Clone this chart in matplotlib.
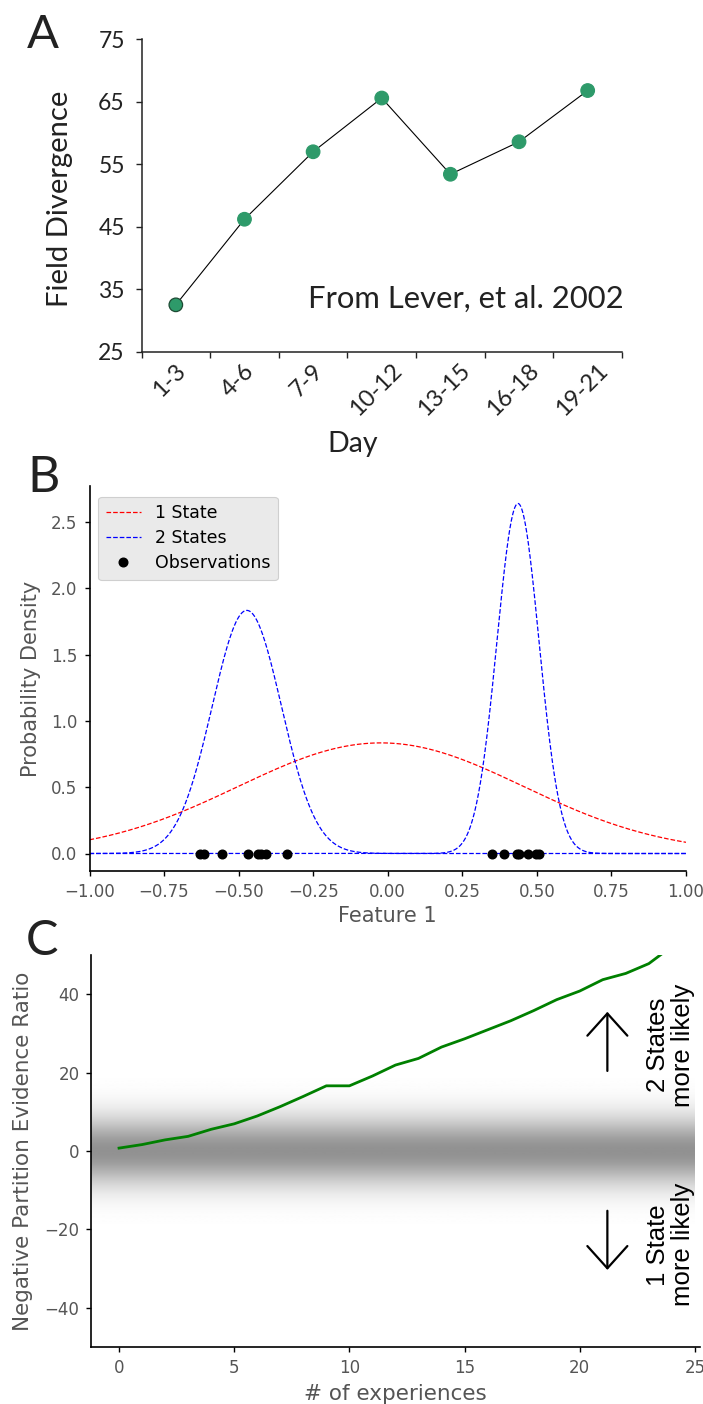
import numpy as np
import matplotlib
matplotlib.use("Agg")
import matplotlib.pyplot as plt
from matplotlib.transforms import ScaledTranslation

# ---------------- data ----------------
# Panel A: place-field divergence over days (Lever et al. 2002)
days = ['1-3', '4-6', '7-9', '10-12', '13-15', '16-18', '19-21']
divergence = [32.5, 46.2, 57.0, 65.6, 53.4, 58.6, 66.8]

# Panel B: one-state vs two-state Gaussian fits to 1-D observations
observations = [-0.629, -0.617, -0.556, -0.468, -0.434, -0.424, -0.408, -0.338,
                0.351, 0.391, 0.435, 0.441, 0.470, 0.497, 0.508]
one_state_mean = -0.023
one_state_sd = 0.478
two_state_means = [-0.4725, 0.4367]
two_state_sds = [0.116, 0.0705]
two_state_weights = [8 / 15, 7 / 15]

# Panel C: evidence ratio as experiences accumulate
experiences = list(range(25))
evidence_ratio = [0.7, 1.6, 2.8, 3.7, 5.5, 6.9, 8.9, 11.3, 13.9, 16.6, 16.6,
                  19.1, 21.9, 23.6, 26.5, 28.6, 30.9, 33.2, 35.8, 38.6, 40.8,
                  43.7, 45.3, 47.8, 52.2]

# ---------------- layout helpers ----------------
W, H = 703, 1404
fig = plt.figure(figsize=(W / 100, H / 100), dpi=100)


def box(left, top, right, bottom):
    return [left / W, 1 - bottom / H, (right - left) / W, (bottom - top) / H]


ink = '#222222'
grey_txt = '#555555'
sans_a = ['Lato', 'DejaVu Sans']

# ---------------- panel A ----------------
axA = fig.add_axes(box(141.5, 39.3, 622, 351.7))
xA = np.arange(len(days)) + 0.5
green_dot = '#2e9a6a'
axA.plot(xA, divergence, color='black', lw=0.8, zorder=2)
edges = ['#1d4a33'] + [green_dot] * (len(days) - 1)
axA.scatter(xA, divergence, s=95, c=green_dot, edgecolors=edges,
            linewidths=0.9, zorder=3)
axA.set_xlim(0, 7)
axA.set_ylim(25, 75)
axA.set_yticks(np.arange(25, 76, 10))
axA.set_xticks(np.arange(0, 8))
axA.set_xticklabels([])
axA.set_xticks(xA, minor=True)
axA.set_xticklabels(days, minor=True, rotation=45, ha='center',
                    fontsize=17, family=sans_a, color=ink)
axA.tick_params(axis='x', which='minor', length=0, pad=6)
axA.tick_params(axis='x', which='major', length=4, width=1, color=ink)
axA.tick_params(axis='y', length=4, width=1, color=ink, pad=8)
for lab in axA.get_yticklabels():
    lab.set_family(sans_a)
    lab.set_fontsize(16.5)
    lab.set_color(ink)
shift = ScaledTranslation(-6 / 100, 0, fig.dpi_scale_trans)
for lab in axA.get_xticklabels(minor=True):
    lab.set_transform(lab.get_transform() + shift)
for side in ('top', 'right'):
    axA.spines[side].set_visible(False)
for side in ('left', 'bottom'):
    axA.spines[side].set_linewidth(1.1)
    axA.spines[side].set_color(ink)
axA.set_ylabel('Field Divergence', fontsize=21, family=sans_a, color=ink)
axA.yaxis.set_label_coords(-0.143, 0.49)
axA.set_xlabel('Day', fontsize=20.5, family=sans_a, color=ink)
axA.xaxis.set_label_coords(0.439, -0.255)
axA.text(1.003, 0.14, 'From Lever, et al. 2002', transform=axA.transAxes,
         ha='right', va='baseline', fontsize=22.3, family=sans_a, color=ink)

# ---------------- panel B ----------------
axB = fig.add_axes(box(89.5, 486, 686, 871))
xs = np.linspace(-1, 1, 1200)


def gauss(x, mu, sd):
    return np.exp(-0.5 * ((x - mu) / sd) ** 2) / (sd * np.sqrt(2 * np.pi))


axB.plot(xs, gauss(xs, one_state_mean, one_state_sd), color='red', ls='--',
         lw=0.9, label='1 State')
for i, (m, s, w) in enumerate(zip(two_state_means, two_state_sds, two_state_weights)):
    axB.plot(xs, w * gauss(xs, m, s), color='blue', ls='--', lw=0.9,
             label='2 States' if i == 0 else None)
axB.plot(observations, np.zeros(len(observations)), 'o', color='black',
         ms=6.2, label='Observations')
axB.set_xlim(-1, 1)
axB.set_xticks(np.arange(-1, 1.01, 0.25))
axB.set_yticks(np.arange(0, 2.51, 0.5))
axB.tick_params(length=3.6, width=1, color='black', labelsize=12,
                labelcolor=grey_txt, pad=5)
for side in ('top', 'right'):
    axB.spines[side].set_visible(False)
for side in ('left', 'bottom'):
    axB.spines[side].set_linewidth(1.2)
    axB.spines[side].set_color('black')
axB.set_ylabel('Probability Density', fontsize=15, color=grey_txt)
axB.yaxis.set_label_coords(-0.082, 0.5)
axB.set_xlabel('Feature 1', fontsize=15, color=grey_txt)
axB.xaxis.set_label_coords(0.5, -0.09)
leg = axB.legend(loc='upper left', bbox_to_anchor=(0.0, 0.995), fontsize=12.5,
                 numpoints=1, frameon=True, fancybox=True, framealpha=1,
                 facecolor='#eaeaea', edgecolor='#cfcfcf', borderpad=0.45,
                 handlelength=2.0, labelspacing=0.4)
leg.get_frame().set_linewidth(0.8)

# ---------------- panel C ----------------
axC = fig.add_axes(box(91.4, 955, 699.5, 1346.7))
band_y = np.linspace(-50, 50, 600)
band = 1 - 0.43 * np.exp(-band_y ** 2 / (2 * 6.0 ** 2))
axC.imshow(band[:, None], extent=[-1.2, 25.0, -50, 50], origin='lower',
           cmap='gray', vmin=0, vmax=1, aspect='auto', interpolation='bilinear',
           zorder=0)
axC.plot(experiences, evidence_ratio, color='green', lw=2.0, zorder=3)
axC.set_xlim(-1.2, 25.2)
axC.set_ylim(-50, 50)
axC.set_xticks(np.arange(0, 26, 5))
axC.set_yticks(np.arange(-40, 41, 20))
axC.tick_params(length=3.6, width=1, color='black', labelsize=12,
                labelcolor=grey_txt, pad=5)
for side in ('top', 'right'):
    axC.spines[side].set_visible(False)
for side in ('left', 'bottom'):
    axC.spines[side].set_linewidth(1.2)
    axC.spines[side].set_color('black')
axC.set_ylabel('Negative Partition Evidence Ratio', fontsize=15.5, color=grey_txt)
axC.yaxis.set_label_coords(-0.096, 0.5)
axC.set_xlabel('# of experiences', fontsize=15.5, color=grey_txt)
axC.xaxis.set_label_coords(0.5, -0.095)

arrow_style = dict(arrowstyle='->,head_length=0.8,head_width=0.72', lw=1.6,
                   color='black', shrinkA=0, shrinkB=0, mutation_scale=20)
axC.annotate('', xy=(21.2, 35.5), xytext=(21.2, 20.4), arrowprops=arrow_style)
axC.annotate('', xy=(21.2, -30.4), xytext=(21.2, -15.3), arrowprops=arrow_style)
axC.text(0.953, 0.770, '2 States\nmore likely', transform=axC.transAxes,
         rotation=90, ha='center', va='center', multialignment='center',
         fontsize=18.5, family=['Liberation Sans', 'DejaVu Sans'], color='black',
         linespacing=1.05)
axC.text(0.953, 0.260, '1 State\nmore likely', transform=axC.transAxes,
         rotation=90, ha='center', va='center', multialignment='center',
         fontsize=18.5, family=['Liberation Sans', 'DejaVu Sans'], color='black',
         linespacing=1.05)

# ---------------- panel letters ----------------
fig.text(27 / W, 1 - 48 / H, 'A', fontsize=34, family=sans_a, color=ink,
         ha='left', va='baseline')
fig.text(27 / W, 1 - 492 / H, 'B', fontsize=36, family=sans_a, color=ink,
         ha='left', va='baseline')
fig.text(26 / W, 1 - 955 / H, 'C', fontsize=35, family=sans_a, color=ink,
         ha='left', va='baseline')

fig.savefig('out.png', dpi=100)
